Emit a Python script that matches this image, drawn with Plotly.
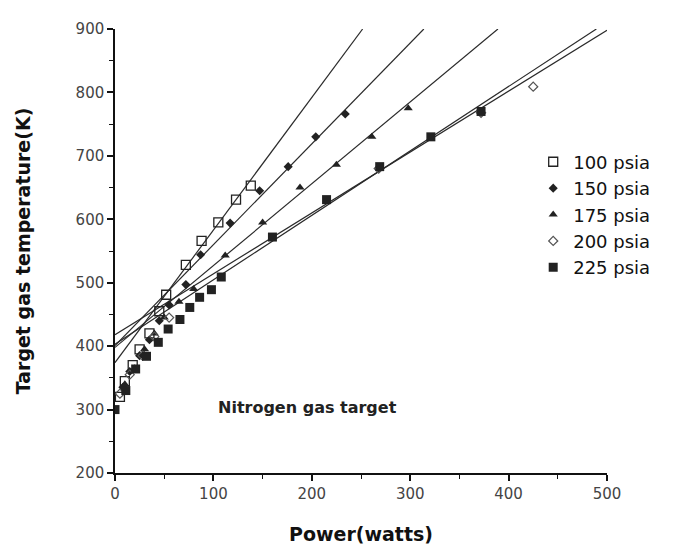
import plotly.graph_objects as go

# ---- data ----
p100_x = [5, 10, 18, 25, 35, 45, 52, 72, 88, 105, 123, 138]
p100_y = [320, 345, 370, 395, 420, 455, 481, 528, 566, 595, 631, 653]

p150_x = [8, 15, 25, 35, 45, 55, 72, 87, 117, 147, 176, 204, 234]
p150_y = [335, 360, 385, 410, 440, 465, 497, 544, 594, 645, 683, 730, 766]

p175_x = [10, 20, 30, 40, 50, 65, 80, 112, 150, 188, 225, 261, 298]
p175_y = [340, 365, 395, 420, 445, 470, 490, 543, 595, 650, 686, 730, 775]

p200_x = [5, 15, 28, 40, 55, 268, 372, 425]
p200_y = [325, 355, 385, 415, 445, 680, 768, 809]

p225_x = [0, 11, 21, 32, 44, 54, 66, 76, 86, 98, 108, 160, 215, 269, 321, 372]
p225_y = [300, 330, 364, 384, 406, 427, 442, 461, 477, 489, 509, 572, 631, 683, 730, 770]

# fitted straight lines: intercept (K at 0 W) and slope (K/W)
fit_names = ["100 psia", "150 psia", "175 psia", "200 psia", "225 psia"]
fit_intercepts = [374, 401, 398, 403, 418]
fit_slopes = [2.09, 1.59, 1.29, 1.016, 0.96]

x_ticks = [0, 100, 200, 300, 400, 500]
y_ticks = [200, 300, 400, 500, 600, 700, 800, 900]

fig = go.Figure()

# fit lines, each clipped at 900 K
for b, m in zip(fit_intercepts, fit_slopes):
    x_end = min(500, (900 - b) / m)
    fig.add_trace(go.Scatter(
        x=[0, x_end], y=[b, b + m * x_end], mode="lines",
        line=dict(color="#2a2a2a", width=1.2), showlegend=False, hoverinfo="skip"))

mk_line = dict(color="#222", width=1.3)
series = [
    ("100 psia", p100_x, p100_y, dict(symbol="square-open", size=9, color="#222", line=mk_line)),
    ("150 psia", p150_x, p150_y, dict(symbol="diamond", size=7, color="#222")),
    ("175 psia", p175_x, p175_y, dict(symbol="triangle-up", size=8, color="#222")),
    ("200 psia", p200_x, p200_y, dict(symbol="diamond-open", size=7, color="#555", line=dict(color="#555", width=1.2))),
    ("225 psia", p225_x, p225_y, dict(symbol="square", size=9, color="#222")),
]
for name, xs, ys, mk in series:
    fig.add_trace(go.Scatter(x=xs, y=ys, mode="markers", name=name, marker=mk))

fig.add_annotation(
    x=103, y=303, xref="x", yref="y", xanchor="left", yanchor="middle",
    text="<b>Nitrogen gas target</b>", showarrow=False,
    font=dict(family="DejaVu Sans", size=16, color="#222"))

axis_common = dict(
    showgrid=False, zeroline=False, showline=True, linecolor="#111", linewidth=1.5,
    ticks="outside", ticklen=6, tickwidth=1.5, tickcolor="#111",
    tickfont=dict(family="DejaVu Sans", size=15, color="#444"),
    minor=dict(ticks="outside", ticklen=4, tickwidth=1.3, tickcolor="#111", dtick=50),
    mirror=False,
)

fig.update_layout(
    width=673, height=550,
    margin=dict(l=107, r=74, t=17, b=85),
    paper_bgcolor="white", plot_bgcolor="white",
    xaxis=dict(range=[0, 500], tickvals=x_ticks, **axis_common,
               title=dict(text="<b>Power(watts)</b>", standoff=26,
                          font=dict(family="DejaVu Sans", size=19, color="#111"))),
    yaxis=dict(range=[200, 900], tickvals=y_ticks, **axis_common,
               title=dict(text="<b>Target gas temperature(K)</b>", standoff=40,
                          font=dict(family="DejaVu Sans", size=19, color="#111"))),
    legend=dict(x=0.85, y=0.742, xanchor="left", yanchor="top",
                bgcolor="rgba(0,0,0,0)", borderwidth=0,
                font=dict(family="DejaVu Sans", size=18, color="#111"),
                itemwidth=30, tracegroupgap=0),
    showlegend=True,
)

fig.write_html("out.html")
